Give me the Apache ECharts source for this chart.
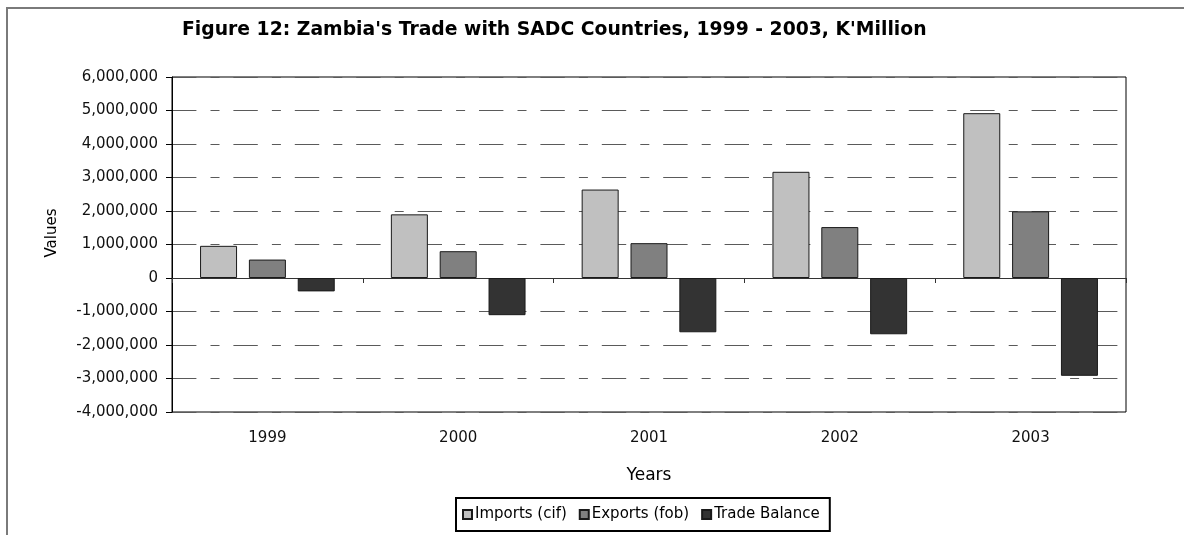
<!DOCTYPE html>
<html>
<head>
<meta charset="utf-8">
<title>Zambia's Trade with SADC Countries</title>
<script src="https://cdn.jsdelivr.net/npm/echarts@6/dist/echarts.min.js"></script>
<style>
  html, body { margin: 0; padding: 0; background: #fff; }
  #chart { width: 1184px; height: 535px; }
</style>
</head>
<body>
<div id="chart"></div>
<script>
// Years on the category axis
const years = ['1999', '2000', '2001', '2002', '2003'];

// Trade values, K'Million
const importsCif = [960000, 1900000, 2640000, 3170000, 4920000];
const exportsFob = [550000, 800000, 1040000, 1520000, 1990000];
const tradeBalance = [-400000, -1110000, -1620000, -1680000, -2920000];

// Value axis range and step
const yMin = -4000000;
const yMax = 6000000;
const yStep = 1000000;

const FONT = '"DejaVu Sans"';
const fmt = v => v.toLocaleString('en-US');

// One colour entry per gridline so each line is its own path and its
// dash pattern restarts at the left axis.
const gridLineCount = Math.round((yMax - yMin) / yStep) + 1;
const gridColors = new Array(gridLineCount).fill('#5a5a5a');

const chart = echarts.init(document.getElementById('chart'), null, { renderer: 'canvas' });

const barBorder = { borderColor: '#1a1a1a', borderWidth: 1 };

chart.setOption({
  animation: false,
  backgroundColor: '#fff',
  textStyle: { fontFamily: FONT },
  title: {
    text: "Figure 12: Zambia's Trade with SADC Countries, 1999 - 2003, K'Million",
    left: 177,
    top: 16,
    textStyle: { fontFamily: FONT, fontSize: 18.8, fontWeight: 'bold', color: '#000' }
  },
  grid: {
    left: 172, right: 58, top: 77, bottom: 123,
    show: true, borderColor: '#000', borderWidth: 1, backgroundColor: 'transparent'
  },
  legend: {
    left: 456, top: 498,
    orient: 'horizontal',
    itemWidth: 9, itemHeight: 9, itemGap: 12,
    padding: [9, 10, 9, 6],
    borderColor: '#000', borderWidth: 2,
    icon: 'rect',
    textStyle: { fontFamily: FONT, fontSize: 15, color: '#000', padding: [0, 0, 0, -2] },
    data: ['Imports (cif)', 'Exports (fob)', 'Trade Balance']
  },
  xAxis: [
    {
      type: 'category',
      data: years,
      position: 'bottom',
      axisLine: { show: false, onZero: false },
      axisTick: { show: false },
      axisLabel: { margin: 19, fontFamily: FONT, fontSize: 15, color: '#111' },
      name: 'Years',
      nameLocation: 'middle',
      nameGap: 55,
      nameTextStyle: { fontFamily: FONT, fontSize: 17, color: '#000' }
    },
    {
      // zero line with the tick marks between the years
      type: 'category',
      data: years,
      position: 'bottom',
      axisLine: { show: true, onZero: true, lineStyle: { color: '#333', width: 1 } },
      axisTick: { show: true, inside: false, length: 5, interval: 0, lineStyle: { color: '#333' } },
      axisLabel: { show: false },
      splitLine: { show: false }
    }
  ],
  yAxis: {
    type: 'value',
    min: yMin, max: yMax, interval: yStep,
    axisLine: { show: true, lineStyle: { color: '#000', width: 1 } },
    axisTick: { show: true, length: 6, lineStyle: { color: '#000' } },
    axisLabel: { margin: 14, fontFamily: FONT, fontSize: 15, color: '#111', formatter: fmt },
    splitLine: {
      show: true,
      lineStyle: { color: gridColors, width: 1.2, type: [24.4, 14.1, 9, 13.9], dashOffset: 0 }
    }
  },
  series: [
    {
      name: 'Imports (cif)', type: 'bar', data: importsCif, xAxisIndex: 0,
      barWidth: 37, barGap: '32%',
      itemStyle: Object.assign({ color: '#c0c0c0' }, barBorder)
    },
    {
      name: 'Exports (fob)', type: 'bar', data: exportsFob, xAxisIndex: 0,
      barWidth: 37, barGap: '32%',
      itemStyle: Object.assign({ color: '#808080' }, barBorder)
    },
    {
      name: 'Trade Balance', type: 'bar', data: tradeBalance, xAxisIndex: 0,
      barWidth: 37, barGap: '32%',
      itemStyle: Object.assign({ color: '#333333' }, barBorder)
    }
  ],
  graphic: [
    {
      type: 'rect', silent: true,
      shape: { x: 7, y: 8, width: 1200, height: 560 },
      style: { fill: 'none', stroke: '#7a7a7a', lineWidth: 2 }
    },
    {
      type: 'text', silent: true,
      x: 52, y: 233, rotation: Math.PI / 2,
      style: {
        text: 'Values', fontFamily: FONT, fontSize: 15, fill: '#000',
        align: 'center', verticalAlign: 'middle'
      }
    }
  ]
});
</script>
</body>
</html>
